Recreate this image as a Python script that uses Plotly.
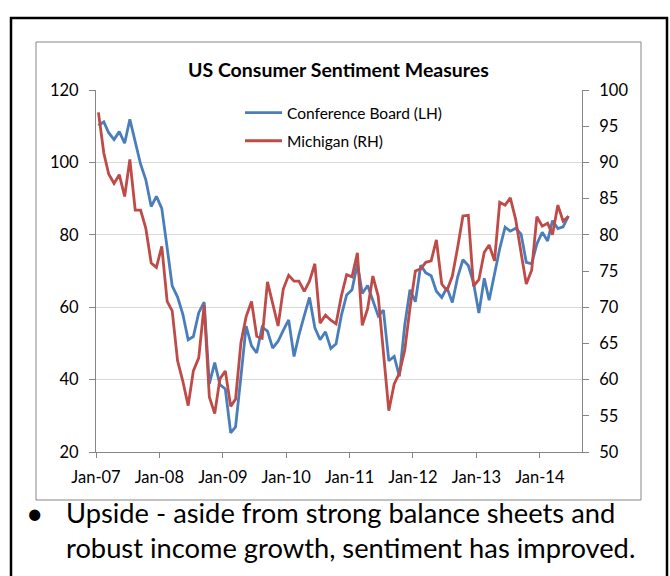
import pandas as pd
import plotly.graph_objects as go

# ---- data (monthly, Jan-2007 .. Jun-2014) ----
start_month = "2007-01-01"
n_months = 90
conference_board = [
    110.2, 111.2, 108.2, 106.3, 108.5, 105.3, 111.9, 105.6, 99.5, 95.2, 87.8, 90.6,
    87.3, 76.4, 65.9, 62.8, 58.1, 51.0, 51.9, 58.5, 61.4, 38.8, 44.7, 38.6,
    37.4, 25.3, 26.9, 40.8, 54.8, 49.3, 47.4, 54.5, 53.4, 48.7, 50.6, 53.6,
    56.5, 46.4, 52.3, 57.7, 62.7, 54.3, 51.0, 53.2, 48.6, 49.9, 57.8, 63.4,
    64.8, 72.0, 63.8, 66.0, 61.7, 57.6, 59.2, 45.2, 46.4, 40.9, 55.2, 64.8,
    61.5, 71.6, 69.5, 68.7, 64.4, 62.7, 65.4, 61.3, 68.4, 73.1, 71.5, 66.7,
    58.4, 68.0, 61.9, 69.0, 76.2, 82.1, 81.0, 81.8, 80.2, 72.4, 72.0, 77.5,
    80.7, 78.3, 83.9, 81.7, 82.2, 85.2,
]
michigan = [
    96.9, 91.3, 88.4, 87.1, 88.3, 85.3, 90.4, 83.4, 83.4, 80.9, 76.1, 75.5,
    78.4, 70.8, 69.5, 62.6, 59.8, 56.4, 61.2, 63.0, 70.3, 57.6, 55.3, 60.1,
    61.2, 56.3, 57.3, 65.1, 68.7, 70.8, 66.0, 65.7, 73.5, 70.6, 67.4, 72.5,
    74.4, 73.6, 73.6, 72.2, 73.6, 76.0, 67.8, 68.9, 68.2, 67.7, 71.6, 74.5,
    74.2, 77.5, 67.5, 69.8, 74.3, 71.5, 63.7, 55.7, 59.4, 60.9, 64.1, 69.9,
    75.0, 75.3, 76.2, 76.4, 79.3, 73.2, 72.3, 74.3, 78.3, 82.6, 82.7, 72.9,
    73.8, 77.6, 78.6, 76.4, 84.5, 84.1, 85.1, 82.1, 77.5, 73.2, 75.1, 82.5,
    81.2, 81.6, 80.0, 84.1, 81.9, 82.5,
]
series_names = ["Conference Board (LH)", "Michigan (RH)"]
title_text = "US Consumer Sentiment Measures"
bullet_text = ("Upside - aside from strong balance sheets and<br>"
               "robust income growth, sentiment has improved.")

months = pd.date_range(start=start_month, periods=n_months, freq="MS") + pd.Timedelta(days=14)

W, H = 670, 576
L, R, T, B = 96, 582, 90, 452  # plot area in pixels
FONT = "Lato"


def px(x):
    return (x - L) / (R - L)


def py(y):
    return (B - y) / (B - T)


BLUE = "#4A7EBB"
RED = "#BE4B48"
AXIS = "#868686"

fig = go.Figure()
fig.add_trace(go.Scatter(x=months, y=conference_board, name=series_names[0],
                         mode="lines", line=dict(color=BLUE, width=2.8),
                         legendgroup="a"))
fig.add_trace(go.Scatter(x=months, y=michigan, name=series_names[1],
                         mode="lines", line=dict(color=RED, width=2.8),
                         yaxis="y2", legendgroup="b"))

tickfont = dict(family=FONT, size=16.5, color="#000000")

fig.update_layout(
    width=W, height=H,
    margin=dict(l=L, r=W - R, t=T, b=H - B, pad=0),
    paper_bgcolor="white", plot_bgcolor="white",
    showlegend=True,
    legend=dict(x=px(240), y=py(96), xanchor="left", yanchor="top",
                bgcolor="rgba(0,0,0,0)", font=dict(family=FONT, size=15.5, color="#000000"),
                traceorder="grouped", tracegroupgap=5, itemwidth=37),
    xaxis=dict(type="date", range=["2007-01-01", "2014-09-01"],
               tick0="2007-01-01", dtick="M12", tickformat="%b-%y",
               showgrid=False, showline=True, linecolor=AXIS, linewidth=1,
               ticks="outside", ticklen=5, tickcolor=AXIS, tickfont=tickfont,
               ticklabelstandoff=5, zeroline=False),
    yaxis=dict(range=[20, 120], dtick=20, showgrid=True, gridcolor="#D9D9D9",
               gridwidth=1, showline=True, linecolor=AXIS, linewidth=1,
               ticks="outside", ticklen=6, tickcolor=AXIS, tickfont=tickfont,
               ticklabelstandoff=7, zeroline=False),
    yaxis2=dict(range=[50, 100], dtick=5, overlaying="y", side="right",
                showgrid=False, showline=True, linecolor=AXIS, linewidth=1,
                ticks="outside", ticklen=6, tickcolor=AXIS, tickfont=tickfont,
                ticklabelstandoff=7, zeroline=False),
    shapes=[
        dict(type="rect", xref="paper", yref="paper",
             x0=px(11), x1=px(667), y0=py(18), y1=py(600),
             line=dict(color="#000000", width=2.5), layer="below"),
        dict(type="rect", xref="paper", yref="paper",
             x0=px(36), x1=px(641), y0=py(42), y1=py(500),
             line=dict(color=AXIS, width=1), layer="below"),
    ],
    annotations=[
        dict(text="<b>" + title_text + "</b>", xref="paper", yref="paper",
             x=px(338), y=py(69), xanchor="center", yanchor="middle",
             showarrow=False, font=dict(family=FONT, size=19.5, color="#000000")),
        dict(text="•", xref="paper", yref="paper", x=px(35), y=py(512),
             xanchor="center", yanchor="middle", showarrow=False,
             font=dict(family=FONT, size=30, color="#000000")),
        dict(text=bullet_text, xref="paper", yref="paper", x=px(64), y=py(494),
             xanchor="left", yanchor="top", align="left", showarrow=False,
             font=dict(family=FONT, size=27.3, color="#000000")),
    ],
)

fig.write_html("out.html")
